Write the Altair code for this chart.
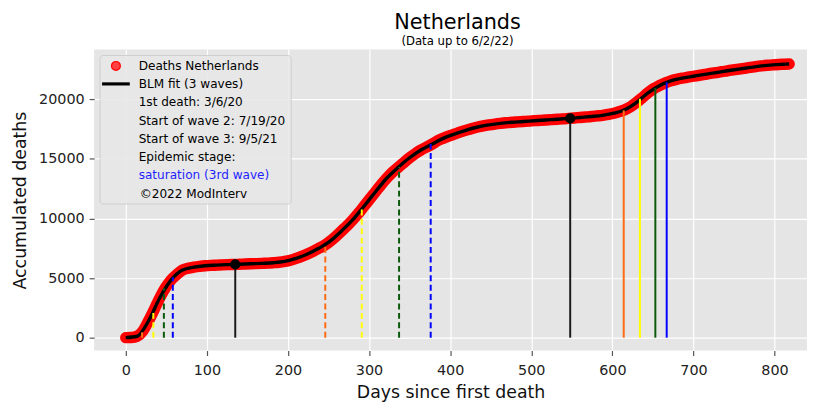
import altair as alt
import pandas as pd

FONT = "DejaVu Sans"

# ---------------- data ----------------
days = list(range(0, 813, 7)) + [818]
deaths = [
    0, 10, 120, 550, 1400, 2350, 3350, 4200, 4850, 5300,
    5680, 5830, 5920, 5990, 6040, 6070, 6090, 6110, 6130, 6145,
    6160, 6180, 6200, 6220, 6240, 6260, 6290, 6330, 6400, 6500,
    6650, 6820, 7020, 7250, 7500, 7750, 8100, 8500, 8950, 9400,
    9900, 10450, 11050, 11650, 12250, 12850, 13400, 13900, 14300, 14700,
    15100, 15450, 15750, 16000, 16250, 16550, 16750, 16930, 17100, 17270,
    17420, 17560, 17680, 17780, 17860, 17930, 17990, 18040, 18080, 18110,
    18140, 18170, 18210, 18240, 18270, 18300, 18330, 18360, 18400, 18440,
    18480, 18520, 18560, 18610, 18660, 18740, 18840, 18980, 19150, 19400,
    19750, 20150, 20550, 20900, 21150, 21380, 21550, 21680, 21780, 21860,
    21940, 22020, 22100, 22180, 22250, 22320, 22400, 22470, 22540, 22610,
    22680, 22750, 22810, 22860, 22900, 22930, 22950, 22970,
]

fit_days = list(range(0, 813, 14)) + [818]
fit_values = [
    0, 120, 1400, 3350, 4850, 5680, 5920, 6040, 6090, 6130,
    6160, 6200, 6240, 6290, 6400, 6650, 7020, 7500, 8100, 8950,
    9900, 11050, 12250, 13400, 14300, 15100, 15750, 16250, 16750, 17100,
    17420, 17680, 17860, 17990, 18080, 18140, 18210, 18270, 18330, 18400,
    18480, 18560, 18660, 18840, 19150, 19750, 20550, 21150, 21550, 21780,
    21940, 22100, 22250, 22400, 22540, 22680, 22810, 22900, 22950, 22970,
]

# wave markers (orange, yellow, green, blue for each wave)
marker_days = [20, 34, 47, 58, 246, 291, 337, 376, 614, 634, 653, 667]
marker_tops = [450, 2300, 4150, 5070, 7600, 10990, 14320, 16260, 19080, 20050, 20950, 21440]
marker_colors = ["#ff6a13", "#ffff00", "#0b5a0b", "#0000ff"] * 3
marker_wave = [1, 1, 1, 1, 2, 2, 2, 2, 3, 3, 3, 3]

peak_days = [135, 548]
peak_values = [6150, 18400]

legend_lines = [
    "Deaths Netherlands",
    "BLM fit (3 waves)",
    "1st death: 3/6/20",
    "Start of wave 2: 7/19/20",
    "Start of wave 3: 9/5/21",
    "Epidemic stage:",
    "saturation (3rd wave)",
    "\u00a92022 ModInterv",
]

x_ticks = [0, 100, 200, 300, 400, 500, 600, 700, 800]
y_ticks = [0, 5000, 10000, 15000, 20000]

# ---------------- tables ----------------
df_data = pd.DataFrame({"day": days, "deaths": deaths})
df_fit = pd.DataFrame({"day": fit_days, "deaths": fit_values})
df_mark = pd.DataFrame({"day": marker_days, "top": marker_tops,
                        "color": marker_colors, "wave": marker_wave})
df_mark["zero"] = 0
df_peak = pd.DataFrame({"day": peak_days, "deaths": peak_values})
df_peak["zero"] = 0
one = pd.DataFrame({"a": [0]})

xscale = alt.Scale(domain=[-39, 840], nice=False, zero=False)
yscale = alt.Scale(domain=[-1080, 24180], nice=False, zero=False)

X = alt.X("day:Q", scale=xscale, title="Days since first death",
          axis=alt.Axis(values=x_ticks, format="d"))
Y = alt.Y("deaths:Q", scale=yscale, title="Accumulated deaths",
          axis=alt.Axis(values=y_ticks, format="d"))

band = alt.Chart(df_data).mark_line(
    color="#ff0000", strokeWidth=11.5, strokeCap="round", strokeJoin="round",
    interpolate="monotone"
).encode(x=X, y=Y)

points = alt.Chart(df_data).mark_circle(
    size=105, color="#ff0000", opacity=1
).encode(x="day:Q", y="deaths:Q")

fit = alt.Chart(df_fit).mark_line(
    color="black", strokeWidth=3.4, interpolate="monotone"
).encode(x="day:Q", y="deaths:Q")

dashed = alt.Chart(df_mark).transform_filter("datum.wave < 3").mark_rule(
    strokeWidth=2, strokeDash=[6, 3.5]
).encode(x="day:Q", y="zero:Q", y2="top:Q", color=alt.Color("color:N", scale=None))

solid = alt.Chart(df_mark).transform_filter("datum.wave == 3").mark_rule(
    strokeWidth=2
).encode(x="day:Q", y="zero:Q", y2="top:Q", color=alt.Color("color:N", scale=None))

peak_rules = alt.Chart(df_peak).mark_rule(color="#1a1a1a", strokeWidth=2).encode(
    x="day:Q", y="zero:Q", y2="deaths:Q")
peak_dots = alt.Chart(df_peak).mark_circle(size=105, color="black", opacity=1).encode(
    x="day:Q", y="deaths:Q")

# ---------------- legend (drawn by hand) ----------------
legend_box = alt.Chart(one).mark_rect(
    fill="#e8e8e8", stroke="#cccccc", strokeWidth=1, cornerRadius=3, opacity=0.9
).encode(x=alt.value(6), x2=alt.value(199), y=alt.value(6), y2=alt.value(156))

legend_dot = alt.Chart(one).mark_point(
    filled=True, shape="circle", size=80, fill="#ff4040", stroke="#ff0000",
    strokeWidth=1.2, opacity=1
).encode(x=alt.value(22), y=alt.value(16.5))

legend_line = alt.Chart(one).mark_rule(color="black", strokeWidth=3.2).encode(
    x=alt.value(8), x2=alt.value(36), y=alt.value(34.7))

legend_texts = []
for i, t in enumerate(legend_lines):
    col = "#1f1fff" if t.startswith("saturation") else "black"
    xoff = 46 if t.startswith("\u00a9") else 45
    legend_texts.append(
        alt.Chart(one).mark_text(
            text=t, align="left", baseline="middle", font=FONT, fontSize=12.2, color=col
        ).encode(x=alt.value(xoff), y=alt.value(16.5 + i * 18.45))
    )

title = alt.Chart(one).mark_text(
    text="Netherlands", align="center", baseline="alphabetic", font=FONT,
    fontSize=21, color="black"
).encode(x=alt.value(367), y=alt.value(-21))
subtitle = alt.Chart(one).mark_text(
    text="(Data up to 6/2/22)", align="center", baseline="alphabetic", font=FONT,
    fontSize=11.8, color="black"
).encode(x=alt.value(367), y=alt.value(-5))

chart = alt.layer(
    band, points, fit, dashed, solid, peak_rules, peak_dots,
    legend_box, legend_dot, legend_line, *legend_texts, title, subtitle
).properties(
    width=720, height=304,
    autosize=alt.AutoSizeParams(type="none"),
    padding={"left": 87, "top": 40, "right": 0, "bottom": 51},
).configure_view(
    fill="#e5e5e5", stroke=None
).configure_axis(
    grid=True, gridColor="white", gridWidth=1.2,
    domain=False, tickColor="#555555", tickSize=5, tickWidth=1.2,
    labelFont=FONT, labelFontSize=14.5, labelColor="#222222",
    titleFont=FONT, titleFontSize=17.5, titleFontWeight="normal", titleColor="#111111",
    labelFlush=False, labelOverlap=False,
).configure_axisX(
    labelPadding=8, titlePadding=7
).configure_axisY(
    labelPadding=5, titlePadding=9
)

chart.save("out.html", embed_options={"renderer": "svg", "actions": False})
